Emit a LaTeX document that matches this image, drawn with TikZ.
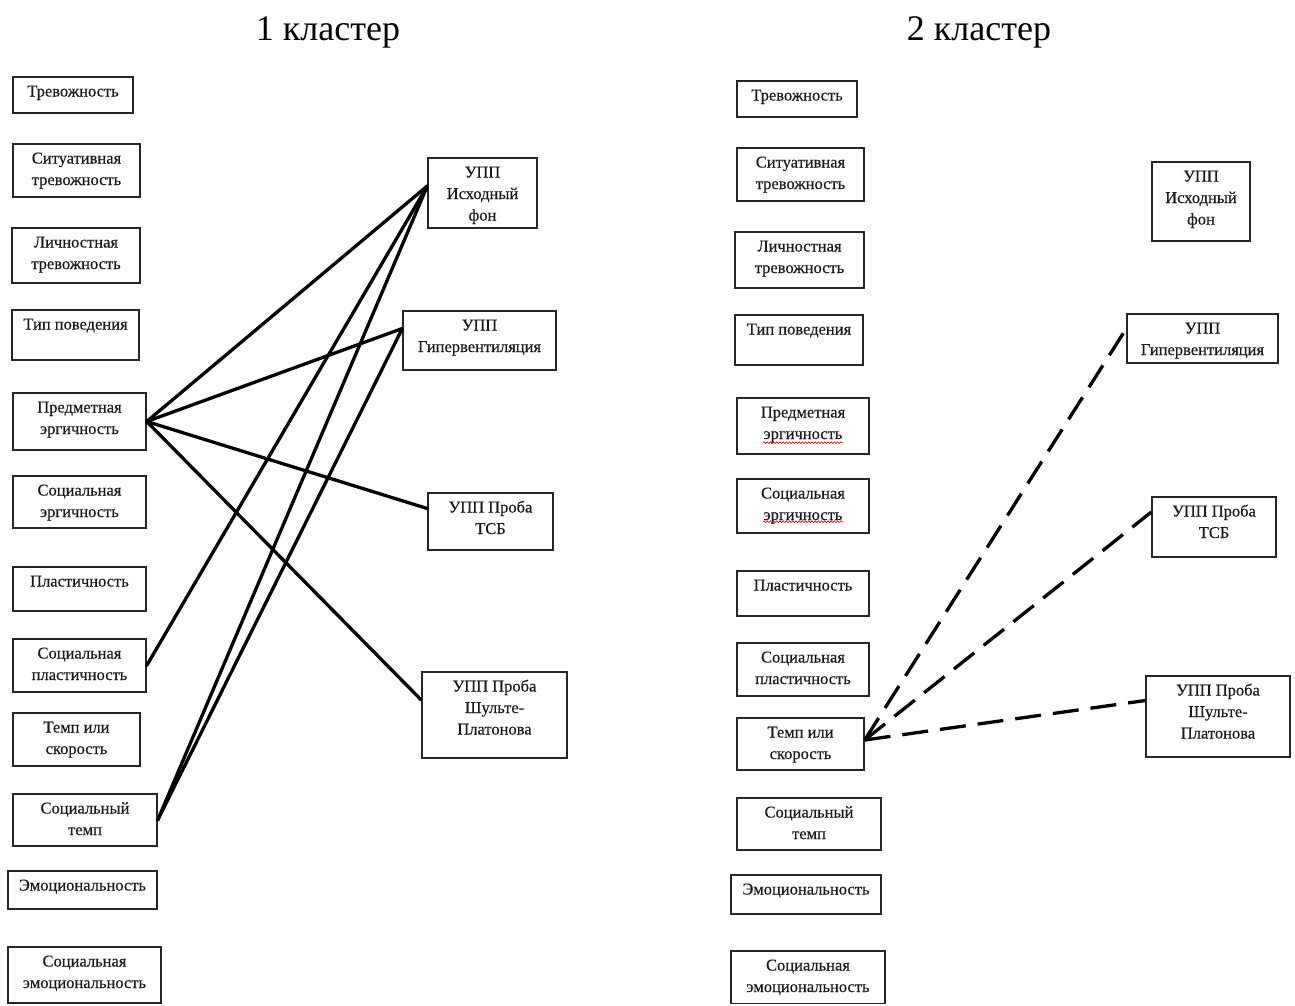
\documentclass[tikz,border=0pt]{standalone}
\usepackage{fontspec}
\setmainfont{Liberation Serif}[FakeBold=0.4]
\newfontfamily\titlefont{Liberation Serif}
\usetikzlibrary{fit,decorations.pathmorphing}
\newcommand\kbox[6]{%
  \node[boxst, fit={(#2,#3)(#4,#5)}] (#1) {};
  \node[lbl] (#1t) at ([yshift=-6pt]#1.north) {\rule{0pt}{14pt}#6};
}
\begin{document}
\begin{tikzpicture}[x=1pt,y=-1pt,
  boxst/.style={draw=black!85, line width=1.4pt, inner sep=0pt},
  lbl/.style={anchor=north, inner sep=0pt, align=center, text=black!90,
              font=\fontsize{16.5}{21.5}\selectfont},
  ttl/.style={anchor=base, inner sep=0pt, font=\titlefont\fontsize{36}{40}\selectfont},
  conn/.style={line width=3.3pt, line cap=round, black},
  dconn/.style={line width=3.3pt, black, dash pattern=on 26pt off 12pt},
  wavy/.style={red!85!black, line width=0.6pt, decorate,
               decoration={snake, amplitude=0.9pt, segment length=3.2pt}}]
\useasboundingbox (0,0) rectangle (1295,1005);

% titles
\node[ttl] (t1) at (328,40) {1 кластер};
\node[ttl] (t2) at (979,40) {2 кластер};

% ---- cluster 1 ----
\kbox{a1}{13}{77}{133}{113}{Тревожность}
\kbox{a2}{13}{144}{140}{197}{Ситуативная\\тревожность}
\kbox{a3}{12}{228}{140}{283}{Личностная\\тревожность}
\kbox{a4}{12}{310}{139}{360}{Тип поведения}
\kbox{a5}{13}{393}{146}{450}{Предметная\\эргичность}
\kbox{a6}{13}{476}{146}{528}{Социальная\\эргичность}
\kbox{a7}{13}{567}{146}{611}{Пластичность}
\kbox{a8}{13}{639}{146}{692}{Социальная\\пластичность}
\kbox{a9}{13}{713}{140}{766}{Темп или\\скорость}
\kbox{a10}{13}{794}{157}{846}{Социальный\\темп}
\kbox{a11}{8}{871}{157}{909}{Эмоциональность}
\kbox{a12}{8}{947}{161}{1003}{Социальная\\эмоциональность}

\kbox{p1}{428}{158}{537}{228}{УПП\\Исходный\\фон}
\kbox{p2}{403}{311}{556}{370}{УПП\\Гипервентиляция}
\kbox{p3}{428}{493}{553}{550}{УПП Проба\\ТСБ}
\kbox{p4}{422}{672}{567}{758}{УПП Проба\\Шульте-\\Платонова}

\draw[conn] (a5.east) -- ([yshift=7pt]p1.west);
\draw[conn] (a5.east) -- ([yshift=12pt]p2.west);
\draw[conn] (a5.east) -- ([yshift=13pt]p3.west);
\draw[conn] (a5.east) -- ([yshift=15pt]p4.west);
\draw[conn] (a8.east) -- ([yshift=7pt]p1.west);
\draw[conn] (a10.east) -- ([yshift=7pt]p1.west);
\draw[conn] (a10.east) -- ([yshift=12pt]p2.west);

% ---- cluster 2 ----
\kbox{b1}{737}{81}{857}{117}{Тревожность}
\kbox{b2}{737}{148}{864}{201}{Ситуативная\\тревожность}
\kbox{b3}{735}{232}{864}{288}{Личностная\\тревожность}
\kbox{b4}{735}{315}{863}{365}{Тип поведения}
\kbox{b5}{737}{398}{869}{454}{Предметная\\эргичность}
\kbox{b6}{737}{479}{869}{533}{Социальная\\эргичность}
\kbox{b7}{737}{571}{869}{616}{Пластичность}
\kbox{b8}{737}{643}{869}{696}{Социальная\\пластичность}
\kbox{b9}{737}{718}{864}{770}{Темп или\\скорость}
\kbox{b10}{737}{798}{881}{850}{Социальный\\темп}
\kbox{b11}{731}{875}{881}{914}{Эмоциональность}
\kbox{b12}{731}{951}{885}{1003.5}{Социальная\\эмоциональность}

\kbox{q1}{1152}{162}{1250}{241}{УПП\\Исходный\\фон}
\kbox{q2}{1127}{314}{1278}{363}{УПП\\Гипервентиляция}
\kbox{q3}{1152}{497}{1276}{557}{УПП Проба\\ТСБ}
\kbox{q4}{1146}{676}{1290}{757}{УПП Проба\\Шульте-\\Платонова}

\draw[wavy] ([xshift=-40pt,yshift=12pt]b5.south) -- ([xshift=40pt,yshift=12pt]b5.south);
\draw[wavy] ([xshift=-40pt,yshift=12pt]b6.south) -- ([xshift=40pt,yshift=12pt]b6.south);

\draw[dconn] ([yshift=4pt]b9.east) -- ([yshift=10pt]q2.west);
\draw[dconn] ([yshift=4pt]b9.east) -- ([yshift=15pt]q3.west);
\draw[dconn] ([yshift=4pt]b9.east) -- ([yshift=16pt]q4.west);
\end{tikzpicture}
\end{document}
